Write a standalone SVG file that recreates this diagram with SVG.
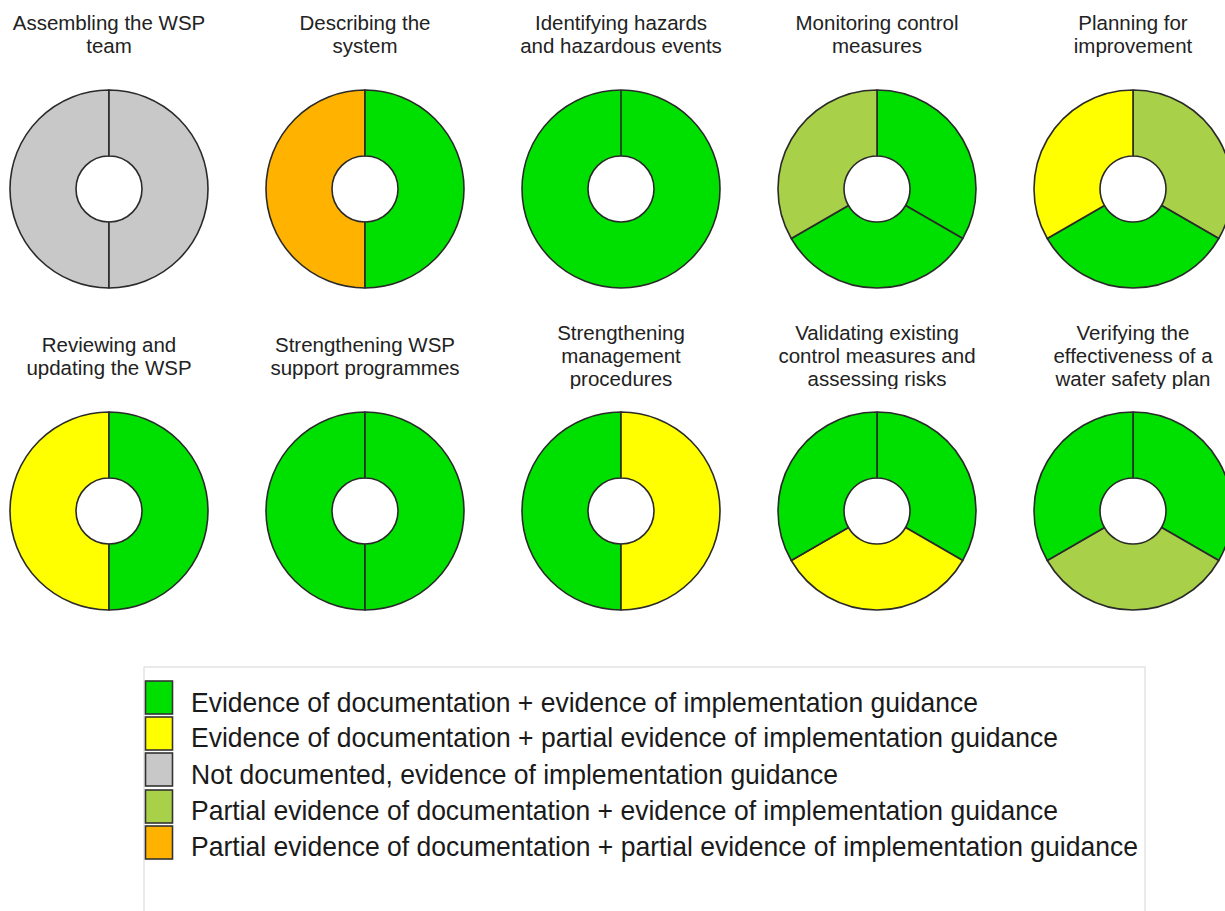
<svg xmlns="http://www.w3.org/2000/svg" width="1225" height="911" viewBox="0 0 1225 911">
  <style>
    .seg { stroke: #2a2a2a; stroke-width: 1.6; stroke-linejoin: round; }
    .g { fill: #00e000; }
    .y { fill: #ffff00; }
    .gr { fill: #c8c8c8; }
    .ol { fill: #a8d048; }
    .or { fill: #ffb300; }
    .title { font-family: "Liberation Sans", Arial, sans-serif; font-size: 20.5px; fill: #222; text-anchor: middle; }
    .leg { font-family: "Liberation Sans", Arial, sans-serif; font-size: 28px; fill: #1a1a1a; }
    .sw { stroke: #333; stroke-width: 1.6; }
    .hole { fill: #ffffff; stroke: #2a2a2a; stroke-width: 1.6; }
  </style>
  <defs>
    <path id="R2" d="M0,-99 A99,99 0 0 1 0,99 L0,33 A33,33 0 0 0 0,-33 Z"/>
    <path id="L2" d="M0,-99 A99,99 0 0 0 0,99 L0,33 A33,33 0 0 1 0,-33 Z"/>
    <path id="A3" d="M0,-99 A99,99 0 0 1 85.74,49.5 L28.58,16.5 A33,33 0 0 0 0,-33 Z"/>
    <path id="B3" d="M85.74,49.5 A99,99 0 0 1 -85.74,49.5 L-28.58,16.5 A33,33 0 0 0 28.58,16.5 Z"/>
    <path id="C3" d="M-85.74,49.5 A99,99 0 0 1 0,-99 L0,-33 A33,33 0 0 0 -28.58,16.5 Z"/>
    <clipPath id="row2clip"><rect x="0" y="300" width="1225" height="89"/></clipPath>
  </defs>
  <rect x="0" y="0" width="1225" height="911" fill="#ffffff"/>

  <g id="assembling">
    <text class="title" x="109" y="30">Assembling the WSP</text>
    <text class="title" x="109" y="53">team</text>
    <g transform="translate(109,189)">
      <use href="#L2" class="seg gr"/>
      <use href="#R2" class="seg gr"/>
    </g>
  </g>

  <g id="describing">
    <text class="title" x="365" y="30">Describing the</text>
    <text class="title" x="365" y="53">system</text>
    <g transform="translate(365,189)">
      <use href="#L2" class="seg or"/>
      <use href="#R2" class="seg g"/>
    </g>
  </g>

  <g id="identifying">
    <text class="title" x="621" y="30">Identifying hazards</text>
    <text class="title" x="621" y="53">and hazardous events</text>
    <g transform="translate(621,189)">
      <path class="seg g" d="M0,-99 A99,99 0 1 1 0,99 A99,99 0 1 1 0,-99 Z M0,-33 A33,33 0 1 0 0,33 A33,33 0 1 0 0,-33 Z" fill-rule="evenodd"/>
      <line x1="0" y1="-99" x2="0" y2="-33" stroke="#2a2a2a" stroke-width="1.6"/>
    </g>
  </g>

  <g id="monitoring">
    <text class="title" x="877" y="30">Monitoring control</text>
    <text class="title" x="877" y="53">measures</text>
    <g transform="translate(877,189)">
      <use href="#A3" class="seg g"/>
      <use href="#B3" class="seg g"/>
      <use href="#C3" class="seg ol"/>
    </g>
  </g>

  <g id="planning">
    <text class="title" x="1133" y="30">Planning for</text>
    <text class="title" x="1133" y="53">improvement</text>
    <g transform="translate(1133,189)">
      <use href="#A3" class="seg ol"/>
      <use href="#B3" class="seg g"/>
      <use href="#C3" class="seg y"/>
    </g>
  </g>

  <g id="reviewing">
    <g clip-path="url(#row2clip)">
      <text class="title" x="109" y="351.5">Reviewing and</text>
      <text class="title" x="109" y="374.5">updating the WSP</text>
    </g>
    <g transform="translate(109,511)">
      <use href="#L2" class="seg y"/>
      <use href="#R2" class="seg g"/>
    </g>
  </g>

  <g id="strengthening-support">
    <g clip-path="url(#row2clip)">
      <text class="title" x="365" y="351.5">Strengthening WSP</text>
      <text class="title" x="365" y="374.5">support programmes</text>
    </g>
    <g transform="translate(365,511)">
      <use href="#L2" class="seg g"/>
      <use href="#R2" class="seg g"/>
    </g>
  </g>

  <g id="strengthening-management">
    <g clip-path="url(#row2clip)">
      <text class="title" x="621" y="340">Strengthening</text>
      <text class="title" x="621" y="363">management</text>
      <text class="title" x="621" y="386">procedures</text>
    </g>
    <g transform="translate(621,511)">
      <use href="#L2" class="seg g"/>
      <use href="#R2" class="seg y"/>
    </g>
  </g>

  <g id="validating">
    <g clip-path="url(#row2clip)">
      <text class="title" x="877" y="340">Validating existing</text>
      <text class="title" x="877" y="363">control measures and</text>
      <text class="title" x="877" y="386">assessing risks</text>
    </g>
    <g transform="translate(877,511)">
      <use href="#A3" class="seg g"/>
      <use href="#B3" class="seg y"/>
      <use href="#C3" class="seg g"/>
    </g>
  </g>

  <g id="verifying">
    <g clip-path="url(#row2clip)">
      <text class="title" x="1133" y="340">Verifying the</text>
      <text class="title" x="1133" y="363">effectiveness of a</text>
      <text class="title" x="1133" y="386">water safety plan</text>
    </g>
    <g transform="translate(1133,511)">
      <use href="#A3" class="seg g"/>
      <use href="#B3" class="seg ol"/>
      <use href="#C3" class="seg g"/>
    </g>
  </g>

  <g id="legend">
    <rect x="144" y="667" width="1001" height="260" fill="#ffffff" stroke="#dddddd" stroke-width="1.2"/>
    <rect class="sw g" x="145.5" y="681" width="27" height="33"/>
    <rect class="sw y" x="145.5" y="717" width="27" height="33"/>
    <rect class="sw gr" x="145.5" y="753" width="27" height="33"/>
    <rect class="sw ol" x="145.5" y="790" width="27" height="33"/>
    <rect class="sw or" x="145.5" y="826" width="27" height="33"/>
    <text class="leg" x="191" y="712" textLength="787" lengthAdjust="spacingAndGlyphs">Evidence of documentation + evidence of implementation guidance</text>
    <text class="leg" x="191" y="747" textLength="867" lengthAdjust="spacingAndGlyphs">Evidence of documentation + partial evidence of implementation guidance</text>
    <text class="leg" x="191" y="784" textLength="647" lengthAdjust="spacingAndGlyphs">Not documented, evidence of implementation guidance</text>
    <text class="leg" x="191" y="820" textLength="867" lengthAdjust="spacingAndGlyphs">Partial evidence of documentation + evidence of implementation guidance</text>
    <text class="leg" x="191" y="856" textLength="947" lengthAdjust="spacingAndGlyphs">Partial evidence of documentation + partial evidence of implementation guidance</text>
  </g>
</svg>
